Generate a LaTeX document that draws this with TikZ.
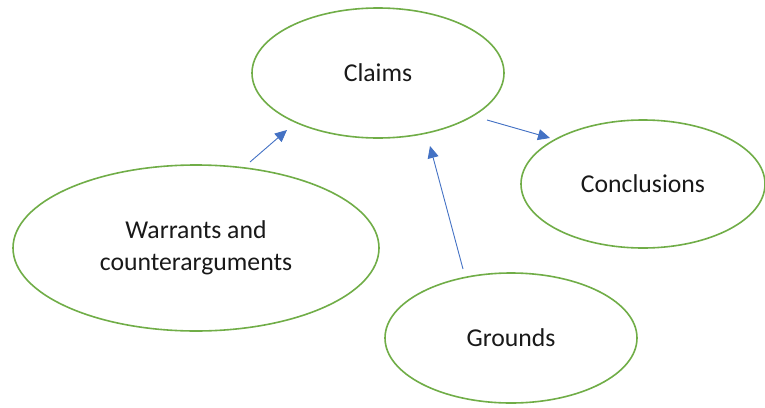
\documentclass[tikz,border=0pt]{standalone}
\usepackage{fontspec}
\setmainfont{Carlito}
\usetikzlibrary{shapes.geometric,arrows.meta}
\definecolor{leafgreen}{HTML}{70AD47}
\definecolor{linkblue}{HTML}{4472C4}
\tikzset{
  idea/.style={ellipse, draw=leafgreen, line width=1.6pt, fill=white,
    inner sep=0pt, align=center, text=black!90,
    font=\fontsize{25.7}{31.7}\selectfont},
  link/.style={draw=linkblue, line width=0.9pt,
    -{Triangle[length=12pt,width=11pt,fill=linkblue]}}
}
\begin{document}
\begin{tikzpicture}[x=1pt,y=-1pt]
  \useasboundingbox (0,0) rectangle (765,407);
  % the four ideas
  \node[idea, minimum width=252pt, minimum height=130pt] (claims) at (378,73) {Claims};
  \node[idea, minimum width=244pt, minimum height=128pt] (concl) at (643,184) {Conclusions};
  \node[idea, minimum width=366pt, minimum height=166pt] (warr) at (196,248) {Warrants and\\counterarguments};
  \node[idea, minimum width=252pt, minimum height=130pt] (grounds) at (511,338) {Grounds};
  % free ends of the links
  \coordinate (warrOut) at (250,162);
  \coordinate (claimsInW) at (287,130);
  \coordinate (groundsOut) at (463,269);
  \coordinate (claimsInS) at (430,146);
  \coordinate (claimsOut) at (487,120);
  \coordinate (conclIn) at (550,138);
  % links
  \draw[link] (warrOut) -- (claimsInW);
  \draw[link] (groundsOut) -- (claimsInS);
  \draw[link] (claimsOut) -- (conclIn);
\end{tikzpicture}
\end{document}
